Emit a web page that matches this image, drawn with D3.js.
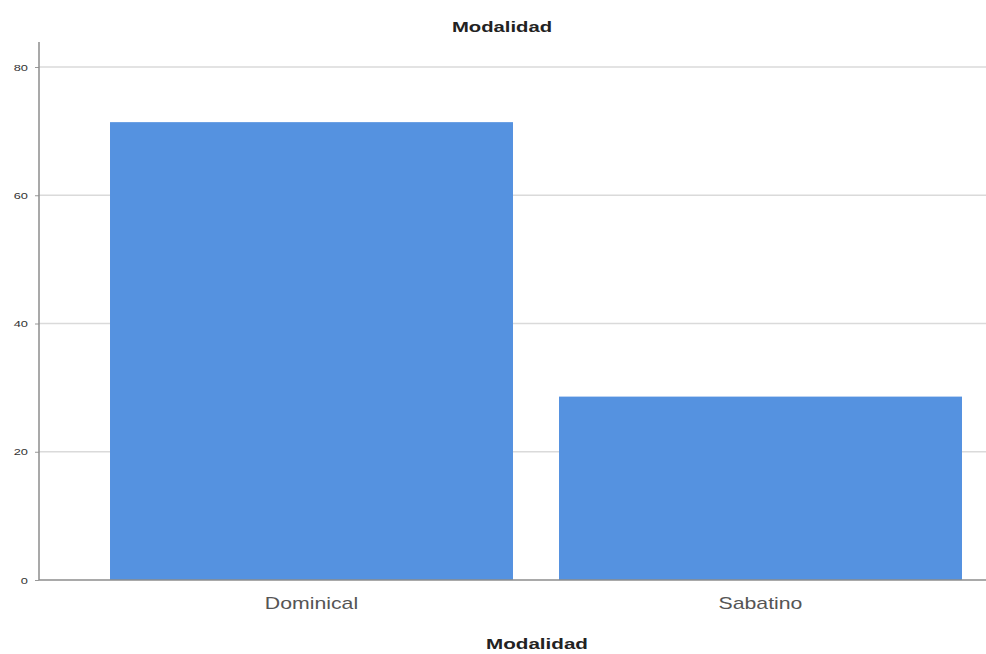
<!DOCTYPE html>
<html><head><meta charset="utf-8">
<script src="https://cdn.jsdelivr.net/npm/d3@7"></script>
<style>body{margin:0;background:#fff;}svg{display:block;font-family:"Liberation Sans",Arial,sans-serif;}</style>
</head><body>
<script>
const categories = ["Dominical", "Sabatino"];
const values = [71.4, 28.6];
const yTicks = [0, 20, 40, 60, 80];
const title = "Modalidad";
const xTitle = "Modalidad";

const W = 986, H = 654;
const svg = d3.select("body").append("svg").attr("width", W).attr("height", H);

const axisX = 39, plotRight = 986, plotTop = 42, plotBottom = 580;
const y = d3.scaleLinear().domain([0, 80]).range([plotBottom, 67]);
const x = d3.scaleBand().domain(categories).range([87, 985]).paddingInner(0.1025).paddingOuter(0.05125);

// horizontal stretch helper (reference text is wider than its height suggests)
function stretch(sel, k) {
  sel.each(function () {
    const t = d3.select(this);
    const w = this.getComputedTextLength();
    t.attr("textLength", w * k).attr("lengthAdjust", "spacingAndGlyphs");
  });
}

// gridlines
svg.append("g").selectAll("line").data(yTicks.filter(d => d > 0)).join("line")
  .attr("x1", axisX).attr("x2", plotRight)
  .attr("y1", d => y(d)).attr("y2", d => y(d))
  .attr("stroke", "#dadada").attr("stroke-width", 1.5);

// bars
svg.append("g").selectAll("rect").data(categories).join("rect")
  .attr("x", d => x(d)).attr("width", x.bandwidth())
  .attr("y", (d, i) => y(values[i])).attr("height", (d, i) => y(0) - y(values[i]))
  .attr("fill", "#5592e0");

// y axis
const yAxis = svg.append("g").attr("transform", `translate(${axisX},0)`)
  .call(d3.axisLeft(y).tickValues(yTicks).tickSize(4).tickPadding(7).tickFormat(d3.format("d")));
yAxis.select(".domain").remove();
yAxis.selectAll(".tick line").attr("stroke", "#999");
yAxis.selectAll(".tick text").attr("font-size", 9.5).attr("fill", "#333").attr("font-family", "Liberation Sans, Arial, sans-serif");
stretch(yAxis.selectAll(".tick text"), 1.35);
svg.append("line").attr("x1", axisX).attr("x2", axisX).attr("y1", plotTop).attr("y2", plotBottom)
  .attr("stroke", "#8c8c8c").attr("stroke-width", 1.5);

// x axis baseline
svg.append("line").attr("x1", axisX).attr("x2", plotRight).attr("y1", plotBottom).attr("y2", plotBottom)
  .attr("stroke", "#8c8c8c").attr("stroke-width", 1.5);

// x category labels
const xAxis = svg.append("g").attr("transform", `translate(0,${plotBottom})`)
  .call(d3.axisBottom(x).tickSize(0).tickPadding(17));
xAxis.select(".domain").remove();
xAxis.selectAll(".tick text").attr("font-size", 17).attr("fill", "#555").attr("font-family", "Liberation Sans, Arial, sans-serif");
stretch(xAxis.selectAll(".tick text"), 1.25);

// titles
const t1 = svg.append("text").attr("x", 502).attr("y", 32).attr("text-anchor", "middle")
  .attr("font-size", 15).attr("font-weight", "bold").attr("fill", "#222").text(title);
stretch(t1, 1.35);
const t2 = svg.append("text").attr("x", 537).attr("y", 649).attr("text-anchor", "middle")
  .attr("font-size", 15.5).attr("font-weight", "bold").attr("fill", "#222").text(xTitle);
stretch(t2, 1.33);
</script>
</body></html>
